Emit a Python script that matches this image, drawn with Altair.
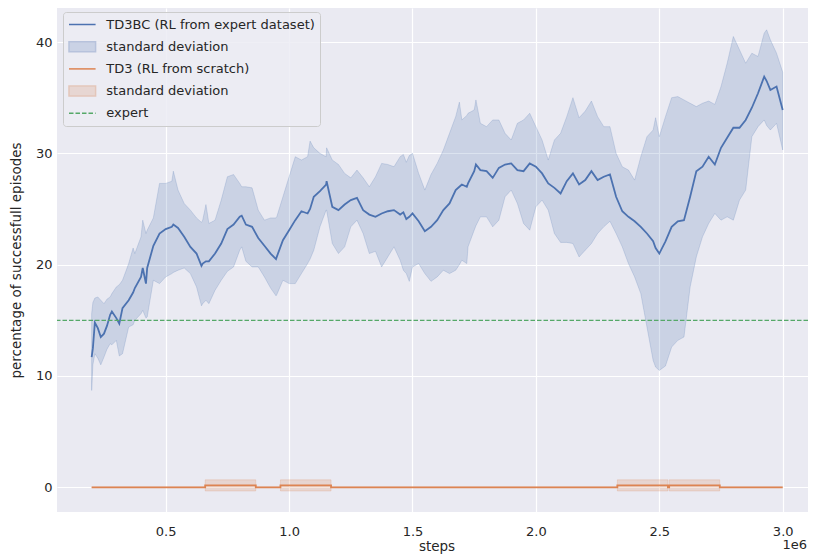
import altair as alt
import pandas as pd

# ---------------- data (steps in millions) ----------------
td3bc_steps = [0.200, 0.205, 0.213, 0.225, 0.237, 0.250, 0.262, 0.275, 0.282, 0.300,
               0.312, 0.325, 0.350, 0.368, 0.375, 0.400, 0.407, 0.420, 0.425, 0.450,
               0.475, 0.500, 0.525, 0.531, 0.550, 0.575, 0.600, 0.625, 0.645, 0.650,
               0.663, 0.675, 0.700, 0.725, 0.750, 0.775, 0.800, 0.808, 0.825, 0.850,
               0.875, 0.900, 0.925, 0.947, 0.950, 0.975, 1.000, 1.025, 1.050, 1.075,
               1.085, 1.100, 1.125, 1.150, 1.152, 1.175, 1.200, 1.225, 1.250, 1.275,
               1.300, 1.325, 1.350, 1.375, 1.400, 1.425, 1.450, 1.463, 1.475, 1.487,
               1.500, 1.525, 1.550, 1.575, 1.600, 1.625, 1.650, 1.675, 1.690, 1.700,
               1.720, 1.725, 1.750, 1.757, 1.775, 1.800, 1.825, 1.850, 1.875, 1.900,
               1.925, 1.950, 1.975, 2.000, 2.025, 2.050, 2.075, 2.100, 2.125, 2.150,
               2.175, 2.200, 2.225, 2.250, 2.275, 2.300, 2.325, 2.350, 2.375, 2.400,
               2.425, 2.450, 2.475, 2.485, 2.500, 2.525, 2.550, 2.575, 2.600, 2.625,
               2.650, 2.675, 2.700, 2.725, 2.750, 2.775, 2.800, 2.825, 2.850, 2.875,
               2.900, 2.925, 2.935, 2.950, 2.975, 3.000]
td3bc_mean = [11.7, 12.5, 14.8, 14.3, 13.5, 13.8, 14.5, 15.5, 15.8, 15.2,
              14.7, 16.1, 16.8, 17.5, 17.9, 18.9, 19.7, 18.3, 19.7, 21.7,
              22.8, 23.2, 23.4, 23.6, 23.3, 22.5, 21.6, 21.0, 19.9, 20.1,
              20.3, 20.3, 21.0, 21.9, 23.2, 23.6, 24.3, 24.4, 23.6, 23.4,
              22.4, 21.7, 21.0, 20.5, 20.7, 22.2, 23.1, 24.0, 24.8, 24.6,
              25.0, 26.1, 26.6, 27.2, 27.5, 25.2, 24.9, 25.4, 25.8, 26.0,
              24.9, 24.5, 24.3, 24.6, 24.8, 24.9, 24.5, 24.7, 24.1, 24.3,
              24.6, 23.9, 23.0, 23.4, 24.0, 24.9, 25.5, 26.7, 27.0, 27.2,
              27.0, 27.3, 28.4, 29.0, 28.5, 28.4, 27.8, 28.7, 29.0, 29.1,
              28.5, 28.4, 29.1, 28.8, 28.2, 27.3, 26.9, 26.4, 27.5, 28.2,
              27.2, 27.6, 28.4, 27.6, 27.9, 28.1, 26.1, 24.8, 24.3, 23.9,
              23.4, 22.8, 22.1, 21.5, 21.0, 22.1, 23.4, 23.9, 24.0, 26.1,
              28.4, 28.8, 29.7, 29.0, 30.5, 31.4, 32.3, 32.3, 33.0, 34.1,
              35.4, 36.9, 36.5, 35.7, 36.0, 33.9]
td3bc_upper = [15.6, 16.6, 17.0, 17.1, 16.8, 16.5, 16.9, 17.1, 17.4, 18.0,
               18.2, 18.6, 20.1, 21.5, 21.0, 22.5, 24.0, 22.8, 23.1, 24.2,
               27.3, 27.3, 27.5, 28.4, 26.7, 25.5, 24.9, 24.2, 23.8, 24.0,
               25.4, 23.7, 24.0, 25.8, 27.9, 28.1, 27.3, 27.0, 27.0, 26.9,
               24.9, 24.0, 24.2, 24.2, 24.3, 26.1, 27.9, 29.7, 29.4, 29.7,
               31.1, 30.5, 30.0, 29.7, 30.5, 29.4, 29.0, 28.2, 27.8, 28.5,
               27.8, 27.0, 27.9, 29.1, 29.0, 28.8, 29.7, 29.9, 29.2, 29.8,
               30.0, 28.2, 26.7, 28.1, 29.1, 30.3, 31.8, 33.3, 34.6, 33.0,
               33.4, 33.6, 33.9, 34.8, 32.7, 32.4, 33.0, 33.0, 31.8, 31.2,
               32.7, 33.0, 33.6, 32.4, 31.2, 29.4, 31.2, 31.8, 33.3, 35.0,
               33.2, 33.8, 34.7, 33.3, 32.4, 32.4, 30.0, 28.8, 28.5, 27.6,
               29.7, 31.5, 32.1, 33.2, 31.5, 33.3, 35.0, 35.1, 34.8, 34.5,
               34.2, 34.5, 34.7, 34.4, 36.0, 38.1, 40.5, 39.3, 38.1, 39.0,
               38.7, 40.8, 41.1, 40.2, 39.0, 37.3]
td3bc_lower = [8.7, 11.0, 12.0, 11.6, 11.0, 11.7, 12.4, 12.9, 12.8, 13.2,
               11.8, 12.0, 14.4, 14.6, 15.0, 15.6, 15.9, 15.2, 15.3, 18.6,
               18.3, 18.9, 19.2, 19.3, 19.5, 19.7, 19.2, 18.0, 16.3, 16.5,
               16.8, 16.5, 17.7, 18.6, 19.4, 19.8, 21.3, 21.6, 20.3, 19.8,
               19.8, 18.9, 17.9, 17.2, 17.3, 18.6, 18.3, 18.3, 19.2, 20.1,
               20.5, 21.3, 23.4, 24.9, 24.9, 21.9, 21.0, 21.6, 23.4, 24.0,
               22.8, 21.0, 21.2, 19.8, 20.7, 21.6, 20.4, 19.5, 19.2, 18.5,
               19.8, 20.1, 19.2, 18.5, 18.9, 19.5, 19.2, 19.5, 20.0, 20.4,
               20.1, 21.6, 23.1, 23.5, 24.3, 24.3, 23.4, 24.0, 26.1, 26.7,
               25.5, 23.7, 23.1, 25.2, 25.8, 24.9, 22.8, 22.0, 22.0, 21.9,
               20.7, 21.3, 21.9, 22.8, 23.4, 23.9, 22.8, 21.6, 20.1, 18.9,
               17.4, 14.4, 11.4, 10.8, 10.5, 10.9, 12.6, 13.2, 13.5, 18.0,
               20.7, 22.5, 23.7, 24.6, 24.0, 24.3, 24.0, 25.8, 26.7, 31.5,
               32.4, 33.0, 32.5, 32.1, 32.7, 30.3]

td3_steps = [0.200, 0.660, 0.660, 0.865, 0.865, 0.965, 0.965, 1.170, 1.170, 2.330,
             2.330, 2.535, 2.535, 2.540, 2.540, 2.745, 2.745, 3.000]
td3_mean = [0.0, 0.0, 0.17, 0.17, 0.0, 0.0, 0.17, 0.17, 0.0, 0.0,
            0.17, 0.17, 0.0, 0.0, 0.17, 0.17, 0.0, 0.0]
td3_upper = [0.0, 0.0, 0.67, 0.67, 0.0, 0.0, 0.67, 0.67, 0.0, 0.0,
             0.67, 0.67, 0.0, 0.0, 0.67, 0.67, 0.0, 0.0]
td3_lower = [0.0, 0.0, -0.33, -0.33, 0.0, 0.0, -0.33, -0.33, 0.0, 0.0,
             -0.33, -0.33, 0.0, 0.0, -0.33, -0.33, 0.0, 0.0]

expert_level = [15.0]

legend_names = ["TD3BC (RL from expert dataset)", "standard deviation ",
                "TD3 (RL from scratch)", "standard deviation", "expert"]

x_ticks = [0.5, 1.0, 1.5, 2.0, 2.5, 3.0]
y_ticks = [0, 10, 20, 30, 40]

# ---------------- styling ----------------
BLUE = "#4C72B0"
ORANGE = "#DD8452"
GREEN = "#55A868"
FONT = "DejaVu Sans"
TXT = "#262626"

legend_fill = [BLUE, "#CAD2E5", ORANGE, "#E7D6D2", GREEN]
legend_stroke = [BLUE, "#B7C2DC", ORANGE, "#E3C6BA", GREEN]
LINE_P = "M-1,0H3.09"
PATCH_P = "M-1,-0.77H3.09V0.77H-1Z"
DASH_P = "M-1,0H-0.31M0,0H0.69M1,0H1.69M2,0H2.69M3,0H3.09"
legend_paths = [LINE_P, PATCH_P, LINE_P, PATCH_P, DASH_P]

W, H = 751, 504
x_scale = alt.Scale(domain=[0.0596, 3.1025], nice=False, zero=False)
y_scale = alt.Scale(domain=[-2.22, 43.06], nice=False, zero=False)

bc = pd.DataFrame({"step": td3bc_steps, "mean": td3bc_mean,
                   "upper": td3bc_upper, "lower": td3bc_lower})
td3 = pd.DataFrame({"step": td3_steps, "mean": td3_mean,
                    "upper": td3_upper, "lower": td3_lower})

x_axis = alt.Axis(values=x_ticks, format=".1f", title="steps")
y_axis = alt.Axis(values=y_ticks, format="d", title="percentage of successfull episodes")


def X(field):
    return alt.X(field, scale=x_scale, axis=x_axis)


def Y(field):
    return alt.Y(field, scale=y_scale, axis=y_axis)


bc_band = alt.Chart(bc).mark_area(
    color=BLUE, fillOpacity=0.2, stroke=BLUE, strokeOpacity=0.2, strokeWidth=1
).encode(x=X("step:Q"), y=Y("lower:Q"), y2="upper:Q")
bc_line = alt.Chart(bc).mark_line(color=BLUE, strokeWidth=1.8).encode(
    x=X("step:Q"), y=Y("mean:Q"))
td3_band = alt.Chart(td3).mark_area(
    color=ORANGE, fillOpacity=0.2, stroke=ORANGE, strokeOpacity=0.2, strokeWidth=1
).encode(x=X("step:Q"), y=Y("lower:Q"), y2="upper:Q")
td3_line = alt.Chart(td3).mark_line(color=ORANGE, strokeWidth=1.8).encode(
    x=X("step:Q"), y=Y("mean:Q"))
expert = alt.Chart(pd.DataFrame({"level": expert_level})).mark_rule(
    color=GREEN, strokeWidth=1.4, strokeDash=[4.5, 2]
).encode(y=Y("level:Q"))

# legend carrier (points placed outside the x domain, clipped away)
leg_df = pd.DataFrame({"series": legend_names, "step": [-1.0] * 5, "v": [0.0] * 5})
legend_layer = alt.Chart(leg_df).mark_point(
    filled=True, clip=True, opacity=1, strokeWidth=1.5
).encode(
    x=X("step:Q"), y=Y("v:Q"),
    fill=alt.Fill("series:N", scale=alt.Scale(domain=legend_names, range=legend_fill),
                  legend=alt.Legend(title=None)),
    stroke=alt.Stroke("series:N", scale=alt.Scale(domain=legend_names, range=legend_stroke),
                      legend=alt.Legend(title=None)),
    shape=alt.Shape("series:N", scale=alt.Scale(domain=legend_names, range=legend_paths),
                    legend=alt.Legend(title=None)),
)

exp_label = alt.Chart(pd.DataFrame({"t": ["1e6"]})).mark_text(
    align="right", baseline="alphabetic", font=FONT, fontSize=13, color=TXT
).encode(text="t:N", x=alt.value(W - 1), y=alt.value(H + 37))

chart = alt.layer(bc_band, bc_line, td3_band, td3_line, expert, legend_layer, exp_label).properties(
    width=W, height=H,
    autosize=alt.AutoSizeParams(type="none"),
    padding={"left": 49, "top": 0, "right": 0, "bottom": 42},
    background="white",
).configure_view(
    fill="#EAEAF2", stroke=None
).configure_axis(
    domain=False, ticks=False, tickSize=0, grid=True, gridColor="white", gridWidth=1.2,
    labelFont=FONT, labelFontSize=13, labelColor=TXT,
    titleFont=FONT, titleFontSize=13.5, titleFontWeight="normal", titleColor=TXT,
).configure_axisX(
    labelPadding=13, titleBaseline="alphabetic", titleY=38, titleX=W / 2 + 4,
).configure_axisY(
    labelPadding=5, titlePadding=12,
).configure_legend(
    orient="none", legendX=6, legendY=4, padding=5, rowPadding=6.2,
    labelOffset=23.3, symbolSize=169, symbolStrokeWidth=1.5,
    labelFont=FONT, labelFontSize=13, labelColor=TXT, labelLimit=400, labelBaseline="middle",
    fillColor="rgba(236,236,243,0.85)", strokeColor="#CCCCCC", cornerRadius=3,
)

chart.save("out.html", embed_options={"renderer": "svg", "actions": False})
